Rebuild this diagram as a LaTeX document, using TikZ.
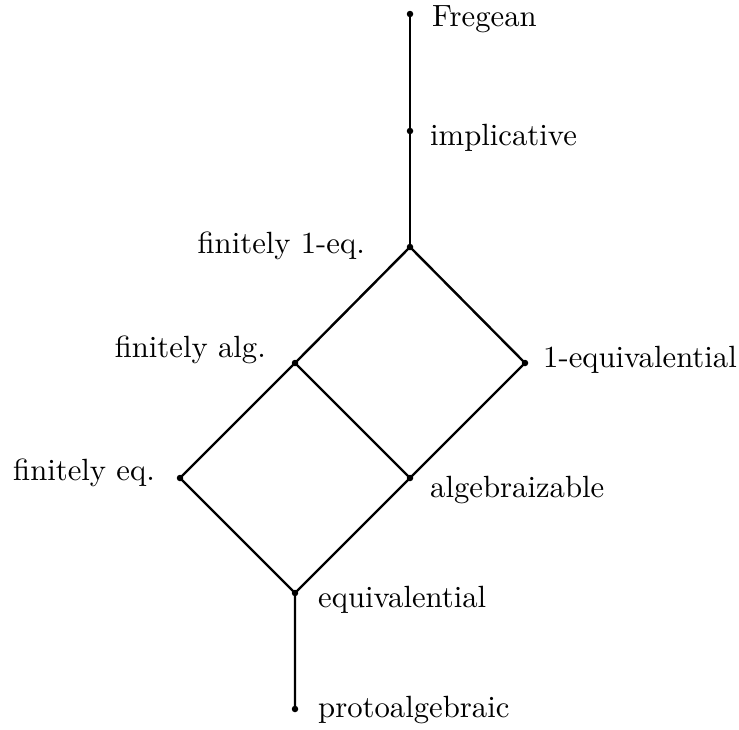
\documentclass[tikz,border=0pt]{standalone}
\usepackage{graphicx}
\usetikzlibrary{calc}
\newcommand{\lbltext}[1]{\scalebox{3.07}{\fontsize{10}{12}\selectfont #1}}
\begin{document}
\begin{tikzpicture}[x=1pt,y=-1pt,
  dot/.style={circle,fill=black,inner sep=0pt,minimum size=6.5pt},
  edge/.style={line width=2.4pt,black},
  lbl/.style={inner sep=0pt}]
\useasboundingbox (0,0) rectangle (739,729);
\coordinate (F) at (410,14);
\coordinate (I) at (410,131);
\coordinate (F1) at (410,247);
\coordinate (FA) at (295,363);
\coordinate (E1) at (525,363);
\coordinate (FE) at (180,478);
\coordinate (A) at (410,478);
\coordinate (EQ) at (295,593);
\coordinate (P) at (295,709);
\draw[edge] (F) -- (I) -- (F1);
\draw[edge] (F1) -- (FA) -- (FE) -- (EQ) -- (P);
\draw[edge] (F1) -- (E1) -- (A) -- (EQ);
\draw[edge] (FA) -- (A);
\foreach \p in {F,I,F1,FA,E1,FE,A,EQ,P} \node[dot] (d\p) at (\p) {};
\node[lbl,anchor=base west] (tF) at (432,26) {\lbltext{Fregean}};
\node[lbl,anchor=base west] (tI) at (430,145) {\lbltext{implicative}};
\node[lbl,anchor=base east] (tF1) at (365,253) {\lbltext{finitely 1-eq.}};
\node[lbl,anchor=base east] (tFA) at (266,357) {\lbltext{finitely alg.}};
\node[lbl,anchor=base west] (tE1) at (543,367) {\lbltext{1-equivalential}};
\node[lbl,anchor=base east] (tFE) at (155,480) {\lbltext{finitely eq.}};
\node[lbl,anchor=base west] (tA) at (430,497) {\lbltext{algebraizable}};
\node[lbl,anchor=base west] (tEQ) at (318,607) {\lbltext{equivalential}};
\node[lbl,anchor=base west] (tP) at (318,717) {\lbltext{protoalgebraic}};
\end{tikzpicture}
\end{document}
